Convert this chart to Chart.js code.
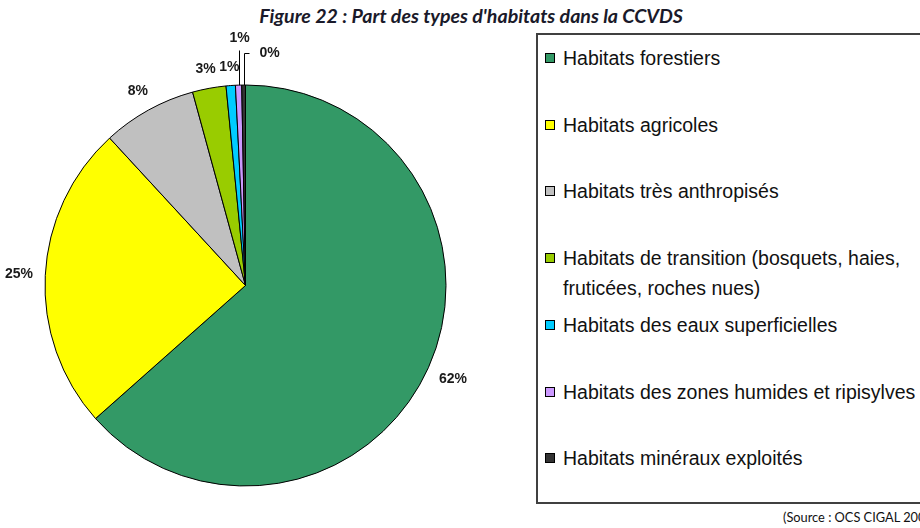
<!DOCTYPE html>
<html><head><meta charset="utf-8">
<script src="https://cdn.jsdelivr.net/npm/chart.js@4.4.1/dist/chart.umd.min.js"></script>
<style>
html,body{margin:0;padding:0;width:920px;height:528px;overflow:hidden;background:#fff;}
body{position:relative;}
#title{position:absolute;left:0;width:942px;top:6px;text-align:center;font:italic bold 19.6px Lato;color:#1a1a2a;white-space:nowrap;line-height:20px;}
#chartBox{position:absolute;left:0;top:0;width:500px;height:528px;}
#legend{position:absolute;left:536px;top:33px;width:420px;height:471px;border:2px solid #404040;box-sizing:border-box;font-family:"Liberation Sans",Arial,sans-serif;font-size:19.5px;color:#111;}
.item{position:absolute;left:7px;line-height:30px;white-space:nowrap;}
.sw{position:absolute;left:0;top:10px;width:10px;height:10px;border:1px solid #000;box-sizing:border-box;}
.tx{position:absolute;left:18px;top:0;}
#source{position:absolute;left:783px;top:510px;font:12.8px Lato;color:#111;white-space:nowrap;line-height:14px;}
</style></head>
<body>
<div id="title">Figure 22 : Part des types d'habitats dans la CCVDS</div>
<div id="chartBox"><canvas id="c"></canvas></div>
<div id="legend"></div>
<div id="source">(Source : OCS CIGAL 200</div>
<script>
const categories = [
  "Habitats forestiers",
  "Habitats agricoles",
  "Habitats très anthropisés",
  ["Habitats de transition (bosquets, haies,", "fruticées, roches nues)"],
  "Habitats des eaux superficielles",
  "Habitats des zones humides et ripisylves",
  "Habitats minéraux exploités"
];
const shares = [63.45, 24.7, 7.6, 2.7, 0.75, 0.5, 0.3];
const pctLabels = ["62%", "25%", "8%", "3%", "1%", "1%", "0%"];
const colors = ["#339966", "#FFFF00", "#C0C0C0", "#99CC00", "#00CCFF", "#CC99FF", "#333333"];

// leader-line styles for the tiny slices (index -> style)
const leaders = {5: {rise: 35.5, side: 'up'}, 6: {rise: 32.5, side: 'right'}};

const labelPlugin = {
  id: 'pctLabels',
  afterDatasetsDraw(chart) {
    const ctx = chart.ctx;
    const meta = chart.getDatasetMeta(0);
    ctx.save();
    ctx.font = 'bold 14px "Liberation Sans", Arial, sans-serif';
    ctx.fillStyle = '#1a1a1a';
    ctx.strokeStyle = '#000';
    ctx.lineWidth = 1;
    ctx.textBaseline = 'middle';
    meta.data.forEach((arc, i) => {
      const p = arc.getProps(['x', 'y', 'startAngle', 'endAngle', 'outerRadius'], true);
      const mid = (p.startAngle + p.endAngle) / 2;
      const c = Math.cos(mid), s = Math.sin(mid);
      const txt = pctLabels[i];
      const w = ctx.measureText(txt).width, h = 11;
      const lead = leaders[i];
      if (!lead) {
        const d = p.outerRadius + 12 + Math.abs(c) * w / 2 + Math.abs(s) * h / 2;
        ctx.textAlign = 'center';
        ctx.fillText(txt, p.x + c * d, p.y + s * d);
      } else {
        const px = Math.round(p.x + c * p.outerRadius) + 0.5;
        const py = p.y + s * p.outerRadius;
        const top = Math.round(p.y - p.outerRadius - lead.rise) + 0.5;
        ctx.beginPath();
        ctx.moveTo(px, py);
        ctx.lineTo(px, top);
        if (lead.side === 'up') {
          ctx.stroke();
          ctx.textAlign = 'center';
          ctx.fillText(txt, px, top - 12);
        } else {
          ctx.lineTo(px + 5, top);
          ctx.stroke();
          ctx.textAlign = 'left';
          ctx.fillText(txt, px + 15, top);
        }
      }
    });
    ctx.restore();
  }
};

new Chart(document.getElementById('c'), {
  type: 'pie',
  data: {
    labels: categories,
    datasets: [{
      data: shares,
      backgroundColor: colors,
      borderColor: '#000',
      borderWidth: 1
    }]
  },
  options: {
    responsive: true,
    maintainAspectRatio: false,
    animation: false,
    layout: {padding: {left: 44.5, right: 53.5, top: 84.5, bottom: 41.5}},
    plugins: {legend: {display: false}, tooltip: {enabled: false}, title: {display: false}}
  },
  plugins: [labelPlugin]
});

// HTML legend built from the same arrays
const legend = document.getElementById('legend');
categories.forEach((lab, k) => {
  const it = document.createElement('div');
  it.className = 'item';
  it.style.top = (23 + 66.7 * k - 15) + 'px';
  const sw = document.createElement('div');
  sw.className = 'sw';
  sw.style.background = colors[k];
  const tx = document.createElement('div');
  tx.className = 'tx';
  const lines = Array.isArray(lab) ? lab : [lab];
  lines.forEach((ln, j) => {
    if (j) tx.appendChild(document.createElement('br'));
    tx.appendChild(document.createTextNode(ln));
  });
  it.appendChild(sw);
  it.appendChild(tx);
  legend.appendChild(it);
});
</script>
</body></html>
